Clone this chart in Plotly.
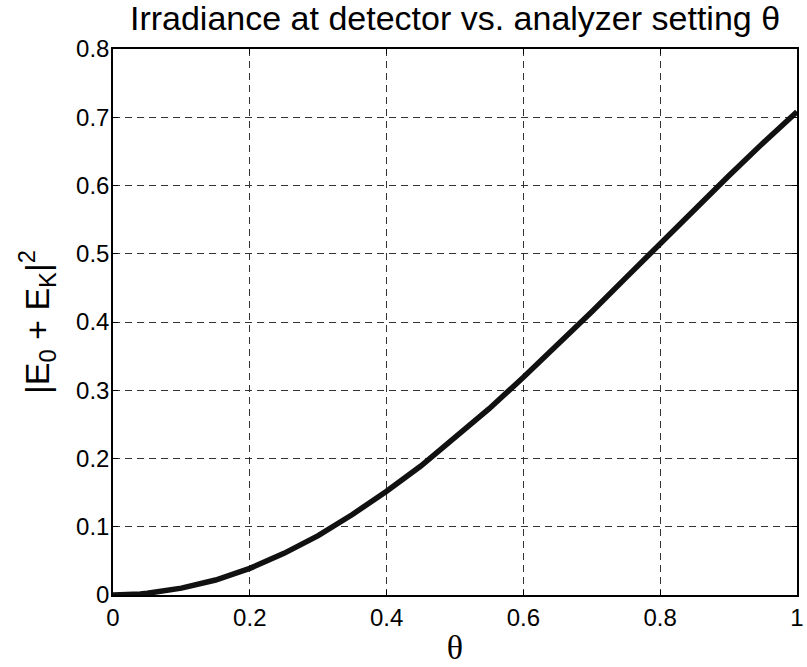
import plotly.graph_objects as go

theta = [0.0, 0.02, 0.04, 0.05, 0.1, 0.15, 0.2, 0.25, 0.3, 0.35, 0.4, 0.45, 0.5,
         0.55, 0.6, 0.65, 0.7, 0.75, 0.8, 0.85, 0.9, 0.95, 1.0]
irradiance = [0.0, 0.0, 0.0015, 0.0025, 0.01, 0.022, 0.039, 0.061, 0.087, 0.118, 0.152,
              0.189, 0.230, 0.273, 0.319, 0.366, 0.415, 0.465, 0.515, 0.565, 0.614,
              0.662, 0.708]

x_ticks = [0, 0.2, 0.4, 0.6, 0.8, 1]
x_labels = ["0", "0.2", "0.4", "0.6", "0.8", "1"]
y_ticks = [0, 0.1, 0.2, 0.3, 0.4, 0.5, 0.6, 0.7, 0.8]
y_labels = ["0", "0.1", "0.2", "0.3", "0.4", "0.5", "0.6", "0.7", "0.8"]

fig = go.Figure()
fig.add_trace(go.Scatter(x=theta, y=irradiance, mode="lines",
                         line=dict(color="#111111", width=5.5), showlegend=False))

axis_common = dict(
    showline=True, linecolor="black", linewidth=1.5, mirror="ticks",
    ticks="inside", ticklen=5, tickcolor="black",
    showgrid=True, gridcolor="#333333", griddash="7px,5px", gridwidth=1,
    zeroline=False, ticklabeloverflow="allow",
    tickfont=dict(family="Liberation Sans, Arial, sans-serif", size=24, color="black"),
)

fig.update_layout(
    width=807, height=667,
    margin=dict(l=113, r=3, t=49, b=72),
    paper_bgcolor="white", plot_bgcolor="white",
    title=dict(text="Irradiance at detector vs. analyzer setting θ",
               font=dict(family="Liberation Sans, Arial, sans-serif",
                         size=34, color="black"),
               xref="paper", x=0.5, xanchor="center",
               yref="container", y=0.991, yanchor="top"),
    xaxis=dict(range=[0, 1], tickvals=x_ticks, ticktext=x_labels,
               title=dict(text="θ", font=dict(family="Liberation Serif, Times New Roman, serif",
                                               size=34, color="black"), standoff=6),
               **axis_common),
    yaxis=dict(range=[0, 0.8], tickvals=y_ticks, ticktext=y_labels, ticklabelstandoff=-3,
               title=dict(text="|E<sub>0</sub> + E<sub>K</sub>|<sup>2</sup>",
                          font=dict(family="Liberation Sans, Arial, sans-serif",
                                    size=34, color="black"), standoff=16),
               **axis_common),
)

fig.write_html("out.html", config={"displayModeBar": False},
               post_script="document.body.style.margin='0';")
